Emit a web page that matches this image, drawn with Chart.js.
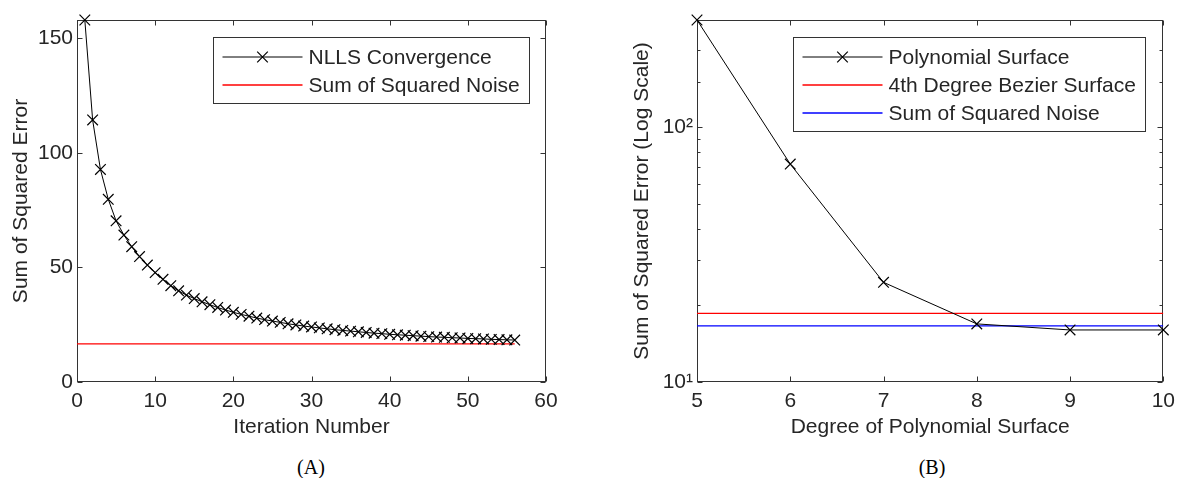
<!DOCTYPE html>
<html>
<head>
<meta charset="utf-8">
<script src="https://cdn.jsdelivr.net/npm/chart.js@4"></script>
<style>
  html, body { margin: 0; padding: 0; background: #fff; }
  #wrap { position: relative; width: 1182px; height: 478px; }
  .panel { position: absolute; top: 0; width: 591px; height: 440px; }
  .cap { position: absolute; top: 455px; width: 100px; text-align: center;
         font: 20px/24px "Liberation Serif", "Times New Roman", serif; color: #000; }
</style>
</head>
<body>
<div id="wrap">
  <div class="panel" style="left:0"><canvas id="chartA"></canvas></div>
  <div class="panel" style="left:591px"><canvas id="chartB"></canvas></div>
  <div class="cap" style="left:261px">(A)</div>
  <div class="cap" style="left:882px">(B)</div>
</div>
<script>
// panel A: NLLS convergence
const iterations = [1, 2, 3, 4, 5, 6, 7, 8, 9, 10, 11, 12, 13, 14, 15, 16, 17, 18, 19, 20,
  21, 22, 23, 24, 25, 26, 27, 28, 29, 30, 31, 32, 33, 34, 35, 36, 37, 38, 39, 40,
  41, 42, 43, 44, 45, 46, 47, 48, 49, 50, 51, 52, 53, 54, 55, 56];
const nllsError = [157.9, 114.3, 92.7, 79.7, 70.3, 64.1, 59.0, 54.7, 51.0, 47.7,
  44.8, 42.0, 39.8, 37.9, 36.4, 35.0, 33.7, 32.5, 31.4, 30.4,
  29.5, 28.7, 27.9, 27.2, 26.6, 26.0, 25.4, 24.9, 24.4, 24.0,
  23.6, 23.2, 22.8, 22.5, 22.2, 21.9, 21.6, 21.3, 21.1, 20.8,
  20.6, 20.4, 20.2, 20.0, 19.8, 19.6, 19.5, 19.3, 19.2, 19.0,
  18.9, 18.8, 18.6, 18.5, 18.4, 18.3];
const noiseSSE = 16.6;
const noiseSpanA = [0, 56];

// panel B: polynomial degree
const degrees = [5, 6, 7, 8, 9, 10];
const polyError = [263, 71.6, 24.6, 16.9, 16.0, 16.0];
const bezierSSE = 18.6;

const axisColor = '#333333';
const textColor = '#262626';
const fontSize = 21;
Chart.defaults.font.family = '"Liberation Sans", Arial, sans-serif';
Chart.defaults.font.size = fontSize;
Chart.defaults.color = textColor;

// matlab style box with inward ticks on all four sides
const frame = {
  id: 'frame',
  beforeDatasetsDraw(chart) {
    const {ctx, chartArea: a} = chart;
    const L = Math.round(a.left) + 0.5, R = Math.round(a.right) - 0.5;
    const T = Math.round(a.top) + 0.5, B = Math.round(a.bottom) - 0.5;
    ctx.save();
    ctx.strokeStyle = axisColor;
    ctx.lineWidth = 1;
    ctx.strokeRect(L, T, R - L, B - T);
    ctx.beginPath();
    const xs = chart.scales.x;
    xs.ticks.forEach(t => {
      const p = Math.round(xs.getPixelForValue(t.value)) + 0.5;
      ctx.moveTo(p, B); ctx.lineTo(p, B - 5);
      ctx.moveTo(p, T); ctx.lineTo(p, T + 5);
    });
    const ys = chart.scales.y;
    ys.ticks.forEach(t => {
      let len = 5;
      if (ys.type === 'logarithmic') {
        const e = Math.log10(t.value);
        if (Math.abs(e - Math.round(e)) > 1e-9) len = 3;
      }
      const p = Math.round(ys.getPixelForValue(t.value)) + 0.5;
      ctx.moveTo(L, p); ctx.lineTo(L + len, p);
      ctx.moveTo(R, p); ctx.lineTo(R - len, p);
    });
    ctx.stroke();
    ctx.restore();
  }
};

// boxed legend in the top right corner of the plot
const boxLegend = {
  id: 'boxLegend',
  afterDraw(chart, args, opts) {
    const {ctx, chartArea: a} = chart;
    const sets = chart.data.datasets;
    const rowH = 28, sample = 80, textX = 95;
    ctx.save();
    ctx.font = fontSize + 'px "Liberation Sans", Arial, sans-serif';
    const tw = Math.max(...sets.map(d => ctx.measureText(d.label).width));
    const w = Math.round(textX + tw + 10);
    const h = sets.length * rowH + 10;
    const x0 = Math.round(a.right - opts.right - w) + 0.5;
    const y0 = Math.round(a.top + opts.top) + 0.5;
    ctx.fillStyle = '#fff';
    ctx.fillRect(x0, y0, w, h);
    ctx.strokeStyle = axisColor;
    ctx.lineWidth = 1;
    ctx.strokeRect(x0, y0, w, h);
    sets.forEach((d, i) => {
      const cy = Math.round(y0 + 19 + i * rowH);
      const lx = x0 + 9;
      ctx.strokeStyle = d.borderColor;
      ctx.lineWidth = d.borderWidth;
      ctx.beginPath();
      ctx.moveTo(lx, cy); ctx.lineTo(lx + sample, cy);
      ctx.stroke();
      if (d.pointRadius > 0) {
        ctx.strokeStyle = d.pointBorderColor;
        ctx.fillStyle = d.pointBorderColor;
        ctx.lineWidth = d.pointBorderWidth;
        Chart.helpers.drawPoint(ctx, {
          pointStyle: d.pointStyle, radius: d.pointRadius,
          rotation: 0, borderWidth: d.pointBorderWidth
        }, lx + sample / 2, cy);
      }
      ctx.fillStyle = textColor;
      ctx.textBaseline = 'middle';
      ctx.fillText(d.label, x0 + textX, cy + 1);
    });
    ctx.restore();
  }
};

function axisX(title, min, max, step) {
  return {
    type: 'linear', min: min, max: max,
    ticks: { stepSize: step, padding: 7, maxRotation: 0 },
    grid: { display: false, drawTicks: false },
    border: { display: false },
    title: { display: true, text: title, padding: 0 },
    afterFit(s) { s.height = 58; }
  };
}

new Chart(document.getElementById('chartA'), {
  type: 'line',
  data: {
    datasets: [{
      label: 'NLLS Convergence',
      data: iterations.map((x, i) => ({x: x, y: nllsError[i]})),
      borderColor: '#000', borderWidth: 1,
      pointStyle: 'crossRot', pointRadius: 7.5, pointBorderWidth: 1.2,
      pointBorderColor: '#000', clip: false
    }, {
      label: 'Sum of Squared Noise',
      data: noiseSpanA.map(x => ({x: x, y: noiseSSE})),
      borderColor: '#ff0000', borderWidth: 1.3, pointRadius: 0
    }]
  },
  options: {
    responsive: true, maintainAspectRatio: false, animation: false,
    layout: { padding: { left: 0, right: 45, top: 20, bottom: 0 } },
    scales: {
      x: axisX('Iteration Number', 0, 60, 10),
      y: {
        min: 0, max: 157.9,
        ticks: { stepSize: 50, padding: 4, includeBounds: false },
        grid: { display: false, drawTicks: false },
        border: { display: false },
        title: { display: true, text: 'Sum of Squared Error', padding: { top: 9, bottom: 0 } },
        afterFit(s) { s.width = 77; }
      }
    },
    plugins: {
      legend: { display: false },
      tooltip: { enabled: false },
      boxLegend: { right: 17, top: 17 }
    }
  },
  plugins: [frame, boxLegend]
});

new Chart(document.getElementById('chartB'), {
  type: 'line',
  data: {
    datasets: [{
      label: 'Polynomial Surface',
      data: degrees.map((x, i) => ({x: x, y: polyError[i]})),
      borderColor: '#000', borderWidth: 1,
      pointStyle: 'crossRot', pointRadius: 7.5, pointBorderWidth: 1.2,
      pointBorderColor: '#000', clip: false
    }, {
      label: '4th Degree Bezier Surface',
      data: [degrees[0], degrees[degrees.length - 1]].map(x => ({x: x, y: bezierSSE})),
      borderColor: '#ff0000', borderWidth: 1.3, pointRadius: 0
    }, {
      label: 'Sum of Squared Noise',
      data: [degrees[0], degrees[degrees.length - 1]].map(x => ({x: x, y: noiseSSE})),
      borderColor: '#0000ff', borderWidth: 1.3, pointRadius: 0
    }]
  },
  options: {
    responsive: true, maintainAspectRatio: false, animation: false,
    layout: { padding: { left: 0, right: 15, top: 20, bottom: 0 } },
    scales: {
      x: axisX('Degree of Polynomial Surface', 5, 10, 1),
      y: {
        type: 'logarithmic', min: 10, max: 263,
        ticks: {
          padding: 4, autoSkip: false,
          callback(v) {
            if (v === 10) return '10¹';
            if (v === 100) return '10²';
            return '';
          }
        },
        grid: { display: false, drawTicks: false },
        border: { display: false },
        title: { display: true, text: 'Sum of Squared Error (Log Scale)', padding: { top: 39, bottom: 0 } },
        afterFit(s) { s.width = 106; }
      }
    },
    plugins: {
      legend: { display: false },
      tooltip: { enabled: false },
      boxLegend: { right: 18, top: 17 }
    }
  },
  plugins: [frame, boxLegend]
});
</script>
</body>
</html>
